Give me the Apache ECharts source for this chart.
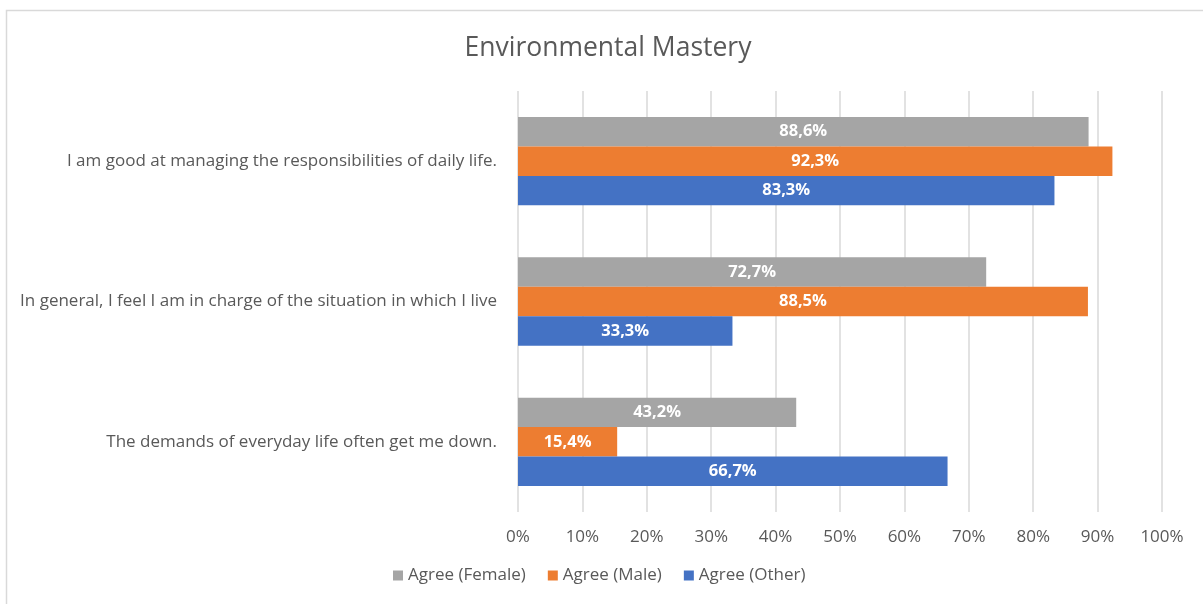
<!DOCTYPE html>
<html>
<head>
<meta charset="utf-8">
<script src="https://cdn.jsdelivr.net/npm/echarts@6/dist/echarts.min.js"></script>
<style>
  html, body { margin: 0; padding: 0; background: #fff; }
  #chart { width: 1203px; height: 604px; }
</style>
</head>
<body>
<div id="chart"></div>
<script>
var titleText = 'Environmental Mastery'
var categories = [
  'I am good at managing the responsibilities of daily life.',
  'In general, I feel I am in charge of the situation in which I live',
  'The demands of everyday life often get me down.'
]
var seriesNames = ['Agree (Female)', 'Agree (Male)', 'Agree (Other)']
var femaleValues = [88.6, 72.7, 43.2]
var maleValues = [92.3, 88.5, 15.4]
var otherValues = [83.3, 33.3, 66.7]
var seriesColors = ['#A5A5A5', '#ED7D31', '#4472C4']

var font = '"Open Sans", Lato, sans-serif'
var textColor = '#595959'

function pct(v) {
  return v.toFixed(1).replace('.', ',') + '%'
}

var allValues = [femaleValues, maleValues, otherValues]
var series = seriesNames.map(function(name, i) {
  return {
    name: name,
    type: 'bar',
    data: allValues[i],
    barGap: '0%',
    barCategoryGap: '37%',
    itemStyle: { color: seriesColors[i] },
    label: {
      show: true,
      position: 'inside',
      color: '#fff',
      fontFamily: font,
      fontSize: 16.5,
      fontWeight: 'bold',
      formatter: function(p) { return pct(p.value) }
    }
  }
})

var chart = echarts.init(document.getElementById('chart'))
chart.setOption({
  animation: false,
  graphic: [{
    type: 'rect',
    shape: { x: 6.5, y: 10.5, width: 1300, height: 700 },
    style: { fill: 'none', stroke: '#d9d9d9', lineWidth: 1.5 },
    silent: true
  }],
  title: {
    text: titleText,
    left: 603,
    textAlign: 'center',
    top: 30,
    textStyle: { color: textColor, fontFamily: font, fontSize: 26.5, fontWeight: 'normal' }
  },
  legend: {
    bottom: 15,
    left: 388,
    itemWidth: 10,
    itemHeight: 10,
    itemGap: 22,
    icon: 'rect',
    textStyle: { color: textColor, fontFamily: font, fontSize: 17 },
    data: seriesNames
  },
  grid: { left: 518, right: 41, top: 91, bottom: 92 },
  xAxis: {
    type: 'value',
    min: 0,
    max: 100,
    interval: 10,
    axisLine: { show: false },
    axisTick: { show: false },
    splitLine: { lineStyle: { color: '#d9d9d9', width: 1.5 } },
    axisLabel: {
      color: textColor,
      fontFamily: font,
      fontSize: 17,
      margin: 17,
      formatter: '{value}%'
    }
  },
  yAxis: {
    type: 'category',
    inverse: true,
    data: categories,
    axisLine: { show: false },
    axisTick: { show: false },
    axisLabel: { color: textColor, fontFamily: font, fontSize: 17, margin: 21 }
  },
  series: series
})
</script>
</body>
</html>
